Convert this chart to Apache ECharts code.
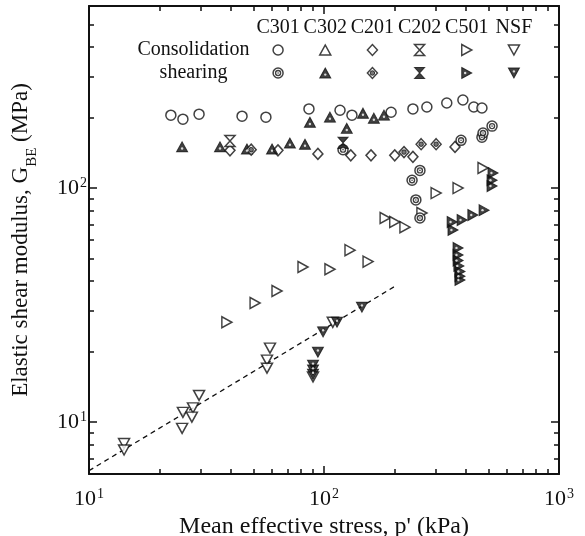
<!DOCTYPE html>
<html>
<head>
<meta charset="utf-8">
<script src="https://cdn.jsdelivr.net/npm/echarts@6/dist/echarts.min.js"></script>
<style>
  html, body { margin: 0; padding: 0; background: #fff; }
  #chart { width: 585px; height: 536px; }
</style>
</head>
<body>
<div id="chart"></div>
<script>
// Specimen names and legend rows
const specimens = ['C301', 'C302', 'C201', 'C202', 'C501', 'NSF'];
const stages = ['shearing', 'Consolidation'];

// Axis ticks (log scales)
const xMajorTicks = [10, 100, 1000];
const xMinorTicks = [20, 30, 40, 50, 60, 70, 80, 90, 200, 300, 400, 500, 600, 700, 800, 900];
const yMajorTicks = [10, 100];
const yMinorTicks = [7, 8, 9, 20, 30, 40, 50, 60, 70, 80, 90, 200, 300, 400, 500];

// [p' (kPa), G_BE (MPa)]
const c301Consol = [[22.3, 205], [25.1, 197], [29.4, 207], [44.8, 203], [56.6, 201], [86.3, 218], [117, 215], [131.5, 205], [193, 211], [239, 218], [274, 222], [333, 231], [390, 238], [434, 222], [470, 220]];
const c301Shear = [[120.5, 146], [237, 108], [256, 119], [246, 89], [256, 74.5], [383, 160], [470, 165], [475, 172], [519, 184]];
const c302Shear = [[24.9, 150], [36.1, 150], [47, 146.8], [60.1, 146.8], [71.6, 155.7], [83, 154], [87.1, 191], [106, 201], [125, 180], [146.5, 209], [163, 199], [180, 205]];
const c201Consol = [[39.8, 145], [63.7, 145], [94.2, 140], [130, 138], [158.5, 138], [200, 138], [239, 136], [361, 150]];
const c201Shear = [[49, 146], [219, 142.5], [259, 154], [300, 154]];
const c202Consol = [[39.8, 159]];
const c202Shear = [[120.5, 156]];
const c501Consol = [[38.6, 26.7], [50.9, 32.3], [63.1, 36.3], [81.4, 46], [106, 45], [129, 54.3], [154, 48.5], [182, 74.5], [200, 71.6], [221, 68.1], [261, 78.2], [300, 95.2], [372, 100], [475, 121.8]];
const c501Shear = [[524, 116], [519, 108], [519, 102], [351, 71.6], [387, 73], [430, 76.7], [480, 80.5], [354, 66.2], [372, 55.5], [372, 51.8], [372, 49], [375, 46.5], [379, 44], [379, 42], [379, 40.5]];
const nsfConsol = [[14.1, 8.1], [14.1, 7.6], [24.9, 9.4], [25.1, 11.0], [27.7, 11.5], [27.4, 10.5], [29.4, 13.0], [57.2, 18.4], [57.2, 17], [58.9, 20.7], [109, 26.7], [89.8, 15.6]];
const nsfShear = [[145, 31], [113.6, 26.7], [99.1, 24.3], [94.2, 19.9], [89.8, 17.5], [89.8, 16.7], [89.8, 16]];

// Power-law trend line for NSF
const nsfTrend = [[10, 6.2], [200, 38]];

const INK = '#111';
const FONT = "'Liberation Serif', 'Times New Roman', serif";

// Marker shapes
const TRI_RIGHT = 'path://M0,0 L10,5 L0,10 Z';
const TRI_DOWN = 'path://M0,0 L10,0 L5,10 Z';
const HOURGLASS = 'path://M0,0 L10,0 L0,10 L10,10 Z';

const open = { color: '#fff', borderColor: INK, borderWidth: 1.5 };
const solid = { color: INK, borderColor: INK, borderWidth: 1 };
const whiteDot = { color: '#fff', borderWidth: 0 };
const inkDot = { color: INK, borderWidth: 0 };

// Each marker is a stack of layers drawn at the same data point
const markers = {
  c301Consol: [{ symbol: 'circle', size: 10, style: open }],
  c301Shear: [{ symbol: 'circle', size: 10, style: open },
              { symbol: 'circle', size: 5, style: { color: '#fff', borderColor: INK, borderWidth: 1.4 } },
              { symbol: 'circle', size: 1.6, style: inkDot }],
  c302Consol: [{ symbol: 'triangle', size: [11, 10], style: open }],
  c302Shear: [{ symbol: 'triangle', size: [11, 10], style: solid },
              { symbol: 'circle', size: 2.4, style: whiteDot, offset: [0, 1.6] }],
  c201Consol: [{ symbol: 'diamond', size: [10, 11], style: open }],
  c201Shear: [{ symbol: 'diamond', size: [10, 11], style: open },
              { symbol: 'circle', size: 4.5, style: { color: '#555', borderColor: INK, borderWidth: 1 } }],
  c202Consol: [{ symbol: HOURGLASS, size: [10, 11], style: open }],
  c202Shear: [{ symbol: HOURGLASS, size: [10, 11], style: solid }],
  c501Consol: [{ symbol: TRI_RIGHT, size: [10, 11], style: open }],
  c501Shear: [{ symbol: TRI_RIGHT, size: [10, 11], style: solid },
              { symbol: 'circle', size: 2.4, style: whiteDot, offset: [-1.6, 0] }],
  nsfConsol: [{ symbol: TRI_DOWN, size: [11, 10], style: open }],
  nsfShear: [{ symbol: TRI_DOWN, size: [11, 10], style: solid },
             { symbol: 'circle', size: 2.4, style: whiteDot, offset: [0, -1.6] }]
};

function layersFor(key, data, xIdx, yIdx) {
  return markers[key].map(function (m, i) {
    return {
      type: 'scatter',
      name: key + (i ? '-' + i : ''),
      xAxisIndex: xIdx,
      yAxisIndex: yIdx,
      data: data,
      symbol: m.symbol,
      symbolSize: m.size,
      symbolOffset: m.offset || [0, 0],
      itemStyle: m.style,
      silent: true,
      z: 3 + i
    };
  });
}

const plotSeries = [].concat(
  layersFor('c301Consol', c301Consol, 0, 0),
  layersFor('c201Consol', c201Consol, 0, 0),
  layersFor('c202Consol', c202Consol, 0, 0),
  layersFor('c501Consol', c501Consol, 0, 0),
  layersFor('nsfConsol', nsfConsol, 0, 0),
  layersFor('c301Shear', c301Shear, 0, 0),
  layersFor('c302Shear', c302Shear, 0, 0),
  layersFor('c201Shear', c201Shear, 0, 0),
  layersFor('c202Shear', c202Shear, 0, 0),
  layersFor('c501Shear', c501Shear, 0, 0),
  layersFor('nsfShear', nsfShear, 0, 0)
);

// Key: one open marker per specimen for consolidation, one filled for shearing
const keyPairs = [['c301', 'C301'], ['c302', 'C302'], ['c201', 'C201'], ['c202', 'C202'], ['c501', 'C501'], ['nsf', 'NSF']];
let keySeries = [];
keyPairs.forEach(function (p) {
  keySeries = keySeries.concat(
    layersFor(p[0] + 'Consol', [[p[1], 'Consolidation']], 4, 4),
    layersFor(p[0] + 'Shear', [[p[1], 'shearing']], 4, 4)
  );
});

const trendSeries = {
  type: 'line',
  xAxisIndex: 0,
  yAxisIndex: 0,
  data: nsfTrend,
  symbol: 'none',
  silent: true,
  lineStyle: { color: INK, width: 1.3, type: [5, 4] },
  z: 2
};

const powLabel = function (v) {
  const e = Math.round(Math.log10(v));
  return '{b|10}{s|' + e + '}';
};
const powRich = {
  b: { fontFamily: FONT, fontSize: 22, color: INK, lineHeight: 24 },
  s: { fontFamily: FONT, fontSize: 14, color: INK, lineHeight: 14, verticalAlign: 'top', padding: [0, 0, 0, 1] }
};

function logAxis(kind, opts) {
  const isX = kind === 'x';
  const base = {
    type: 'log',
    logBase: 10,
    min: isX ? 10 : 6,
    max: isX ? 1000 : 600,
    gridIndex: 0,
    position: opts.position,
    axisLine: { show: !!opts.line, onZero: false, lineStyle: { color: INK, width: 2 } },
    axisTick: {
      show: true, inside: true, length: opts.major ? 8 : 5,
      customValues: opts.major ? (isX ? xMajorTicks : yMajorTicks) : (isX ? xMinorTicks : yMinorTicks),
      lineStyle: { color: INK, width: 1.5 }
    },
    axisLabel: { show: false },
    splitLine: { show: false },
    minorTick: { show: false },
    minorSplitLine: { show: false }
  };
  if (opts.labels) {
    base.axisLabel = {
      show: true,
      customValues: isX ? xMajorTicks : yMajorTicks,
      formatter: powLabel,
      rich: powRich,
      margin: isX ? 13 : 2
    };
  }
  if (opts.name) {
    base.name = opts.name;
    base.nameLocation = 'middle';
    base.nameGap = opts.nameGap;
    base.nameTextStyle = opts.nameStyle;
  }
  return base;
}

const option = {
  animation: false,
  backgroundColor: '#fff',
  grid: [
    { left: 89, right: 26, top: 6, bottom: 62, outerBoundsMode: 'none', containLabel: false },
    { left: 254.5, right: 47.5, top: 38.5, height: 46, outerBoundsMode: 'none', containLabel: false }
  ],
  xAxis: [
    logAxis('x', { position: 'bottom', major: true, line: true, labels: true,
      name: "Mean effective stress, p' (kPa)", nameGap: 33,
      nameStyle: { fontFamily: FONT, fontSize: 24, color: INK } }),
    logAxis('x', { position: 'bottom', major: false }),
    logAxis('x', { position: 'top', major: true, line: true }),
    logAxis('x', { position: 'top', major: false }),
    {
      type: 'category', gridIndex: 1, position: 'top', data: specimens,
      axisLine: { show: false }, axisTick: { show: false }, splitLine: { show: false },
      axisLabel: { fontFamily: FONT, fontSize: 20, color: INK, margin: 1, interval: 0, hideOverlap: false }
    }
  ],
  yAxis: [
    logAxis('y', { position: 'left', major: true, line: true, labels: true,
      name: 'Elastic shear modulus, G{sub|BE} (MPa)', nameGap: 57,
      nameStyle: {
        fontFamily: FONT, fontSize: 23, color: INK,
        rich: { sub: { fontFamily: FONT, fontSize: 15, color: INK, verticalAlign: 'bottom', lineHeight: 16, padding: [0, 0, -8, 0] } }
      } }),
    logAxis('y', { position: 'left', major: false }),
    logAxis('y', { position: 'right', major: true, line: true }),
    logAxis('y', { position: 'right', major: false }),
    {
      type: 'category', gridIndex: 1, position: 'left', data: stages,
      axisLine: { show: false }, axisTick: { show: false }, splitLine: { show: false },
      axisLabel: { fontFamily: FONT, fontSize: 20, color: INK, align: 'center', margin: 61, interval: 0, hideOverlap: false }
    }
  ],
  series: [trendSeries].concat(plotSeries, keySeries)
};

const chart = echarts.init(document.getElementById('chart'), null, { renderer: 'canvas' });
chart.setOption(option);
</script>
</body>
</html>
